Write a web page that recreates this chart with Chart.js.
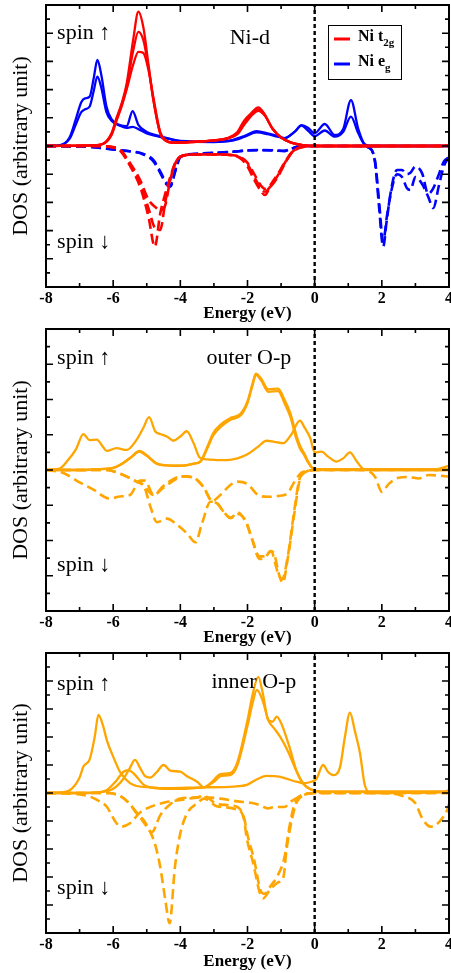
<!DOCTYPE html>
<html>
<head>
<meta charset="utf-8">
<script src="https://cdn.jsdelivr.net/npm/chart.js@4.4.1/dist/chart.umd.min.js"></script>
<style>
  html, body { margin: 0; padding: 0; background: #fff; }
  body { width: 451px; height: 973px; position: relative; overflow: hidden; }
  .panel { position: absolute; left: 0; width: 451px; height: 325px; }
</style>
</head>
<body>
<div class="panel" style="top:0"><canvas id="niD"></canvas></div>
<div class="panel" style="top:324px"><canvas id="outerOp"></canvas></div>
<div class="panel" style="top:648px"><canvas id="innerOp"></canvas></div>
<script>
// energy axis
const energyTicks = [-8, -6, -4, -2, 0, 2, 4];
const energyMinor = [-7, -5, -3, -1, 1, 3];

// ---- Ni-d panel ----
const t2gUpE = [-8, -6.6, -6.3, -6.05, -5.9, -5.75, -5.6, -5.4, -5.25, -5.1, -4.95, -4.8, -4.6, -4.45, -4.2, -3.5, -3.0, -2.6, -2.3, -2.1, -1.9, -1.68, -1.5, -1.25, -1.0, -0.7, -0.4, -0.1, 0.5, 3.8, 4];
const t2gUp1 = [0, 0.02, 0.08, 0.45, 1.0, 1.5, 2.2, 3.8, 4.76, 4.2, 2.9, 1.63, 0.45, 0.2, 0.12, 0.15, 0.2, 0.28, 0.5, 0.9, 1.15, 1.37, 1.15, 0.6, 0.3, 0.12, 0.04, 0, 0, 0, 0.04];
const t2gUp2 = [0, 0.02, 0.08, 0.42, 0.95, 1.45, 2.1, 3.4, 4.05, 3.75, 2.8, 1.6, 0.45, 0.2, 0.12, 0.15, 0.2, 0.27, 0.45, 0.82, 1.1, 1.3, 1.12, 0.6, 0.3, 0.12, 0.04, 0, 0, 0, 0.04];
const t2gUp3 = [0, 0.02, 0.07, 0.38, 0.9, 1.4, 2.0, 2.9, 3.34, 3.3, 2.7, 1.7, 0.5, 0.22, 0.12, 0.15, 0.2, 0.26, 0.42, 0.75, 1.05, 1.25, 1.1, 0.62, 0.3, 0.12, 0.04, 0, 0, 0, 0.04];

const egUpE = [-8, -7.6, -7.3, -7.1, -6.95, -6.84, -6.7, -6.58, -6.47, -6.35, -6.2, -6.05, -5.8, -5.6, -5.42, -5.25, -5.0, -4.7, -4.3, -4.0, -3.0, -2.5, -2.1, -1.73, -1.4, -1.1, -0.9, -0.6, -0.39, -0.2, 0.0, 0.3, 0.6, 0.85, 1.08, 1.3, 1.5, 1.7, 4];
const egUp1 = [0, 0.02, 0.3, 1.0, 1.55, 1.69, 1.75, 2.4, 3.05, 2.5, 1.4, 0.95, 0.74, 0.7, 1.24, 0.75, 0.5, 0.38, 0.25, 0.18, 0.15, 0.2, 0.35, 0.53, 0.45, 0.35, 0.28, 0.5, 0.74, 0.65, 0.45, 0.78, 0.39, 0.6, 1.63, 0.6, 0.05, 0, 0];
const egUp2 = [0, 0.02, 0.25, 0.8, 1.2, 1.3, 1.4, 1.95, 2.46, 2.05, 1.2, 0.9, 0.72, 0.64, 0.68, 0.6, 0.45, 0.35, 0.24, 0.17, 0.14, 0.18, 0.32, 0.48, 0.42, 0.33, 0.28, 0.5, 0.72, 0.55, 0.35, 0.55, 0.33, 0.5, 1.04, 0.45, 0.04, 0, 0];

const t2gDnE = [-8, -6.5, -6.0, -5.8, -5.5, -5.2, -4.95, -4.76, -4.6, -4.45, -4.3, -4.15, -4.0, -3.6, -3.0, -2.5, -2.2, -2.0, -1.8, -1.6, -1.48, -1.3, -1.1, -0.9, -0.7, -0.5, -0.3, 0, 4];
const t2gDn1 = [0, 0, -0.05, -0.15, -0.7, -1.44, -2.5, -3.57, -2.4, -1.7, -1.1, -0.6, -0.38, -0.3, -0.3, -0.32, -0.45, -0.73, -1.2, -1.6, -1.74, -1.35, -1.0, -0.6, -0.25, -0.08, -0.02, 0, 0];
const t2gDn2 = [0, 0, -0.05, -0.14, -0.65, -1.3, -2.2, -2.9, -2.98, -2.0, -1.15, -0.6, -0.38, -0.3, -0.3, -0.32, -0.42, -0.65, -1.1, -1.5, -1.62, -1.4, -1.05, -0.62, -0.25, -0.08, -0.02, 0, 0];
const t2gDn3 = [0, 0, -0.04, -0.12, -0.6, -1.2, -1.9, -2.15, -2.27, -2.1, -1.2, -0.62, -0.38, -0.3, -0.3, -0.32, -0.4, -0.6, -1.0, -1.4, -1.52, -1.42, -1.1, -0.65, -0.27, -0.08, -0.02, 0, 0];

const egDnE = [-8, -7, -6.5, -6.0, -5.6, -5.4, -5.1, -4.8, -4.6, -4.42, -4.3, -4.15, -4.0, -3.6, -3.0, -2.4, -2.0, -1.6, -1.2, -0.9, -0.7, -0.5, 0, 1.4, 1.6, 1.8, 1.92, 2.04, 2.15, 2.3, 2.45, 2.6, 2.75, 2.85, 3.0, 3.2, 3.38, 3.53, 3.7, 3.85, 4];
const egDn1 = [0, -0.02, -0.05, -0.12, -0.18, -0.2, -0.3, -0.55, -0.95, -1.35, -1.44, -0.9, -0.4, -0.3, -0.25, -0.2, -0.16, -0.15, -0.16, -0.18, -0.1, -0.02, 0, 0, -0.05, -0.6, -2.2, -3.57, -2.6, -1.4, -0.85, -0.85, -1.0, -0.95, -0.73, -0.97, -1.7, -1.5, -1.0, -0.55, -0.4];
const egDn2 = [0, -0.02, -0.05, -0.12, -0.17, -0.2, -0.28, -0.5, -0.9, -1.3, -1.4, -0.85, -0.38, -0.28, -0.24, -0.2, -0.15, -0.14, -0.15, -0.17, -0.1, -0.02, 0, 0, -0.05, -0.55, -2.0, -3.4, -2.5, -1.5, -1.0, -1.1, -1.5, -1.56, -1.1, -1.35, -1.8, -2.2, -1.4, -0.7, -0.4];

// ---- outer O-p panel ----
const outerAE = [-8, -7.6, -7.38, -7.1, -6.89, -6.7, -6.49, -6.3, -6.19, -5.9, -5.6, -5.3, -5.1, -4.93, -4.75, -4.6, -4.4, -4.2, -4.0, -3.81, -3.6, -3.42, -3.2, -2.9, -2.62, -2.3, -2.03, -1.7, -1.43, -1.2, -0.94, -0.7, -0.44, -0.3, -0.13, 0.0, 0.2, 0.4, 0.65, 0.85, 1.05, 1.25, 1.45, 1.7, 4];
const outerA = [0, 0.04, 0.24, 0.6, 1.02, 0.85, 0.86, 0.65, 0.54, 0.62, 0.57, 0.86, 1.2, 1.5, 1.1, 1.02, 0.95, 0.83, 0.95, 1.1, 0.75, 0.35, 0.3, 0.28, 0.28, 0.33, 0.43, 0.65, 0.83, 0.8, 0.76, 1.0, 1.4, 1.2, 0.9, 0.5, 0.52, 0.38, 0.24, 0.33, 0.5, 0.25, 0.03, 0, 0];
const outerBE = [-8, -7, -6.5, -6.0, -5.7, -5.45, -5.22, -5.0, -4.71, -4.4, -4.0, -3.6, -3.4, -3.2, -3.02, -2.8, -2.52, -2.2, -2.0, -1.85, -1.75, -1.6, -1.38, -1.09, -0.9, -0.72, -0.55, -0.44, -0.3, -0.2, -0.05, 0.2, 3.6, 4];
const outerB = [0, 0, 0.02, 0.06, 0.2, 0.38, 0.54, 0.42, 0.19, 0.13, 0.12, 0.18, 0.25, 0.65, 1.05, 1.29, 1.47, 1.6, 1.95, 2.45, 2.73, 2.6, 2.29, 2.31, 2.0, 1.6, 1.0, 0.7, 0.45, 0.25, 0.05, 0.02, 0.02, 0.12];
const outerC = [0, 0, 0.02, 0.06, 0.2, 0.37, 0.52, 0.4, 0.18, 0.13, 0.12, 0.18, 0.24, 0.6, 0.98, 1.22, 1.42, 1.55, 1.9, 2.4, 2.7, 2.55, 2.22, 2.24, 1.9, 1.5, 0.9, 0.62, 0.4, 0.22, 0.05, 0.02, 0.02, 0.02];

const outerDn1E = [-8, -7.5, -7.0, -6.6, -6.1, -5.8, -5.5, -5.2, -5.05, -4.8, -4.5, -4.2, -3.9, -3.6, -3.3, -3.05, -2.8, -2.5, -2.3, -2.0, -1.7, -1.4, -1.1, -0.8, -0.6, -0.4, -0.2, 0, 1.5, 1.8, 2.0, 2.2, 2.5, 2.8, 3.1, 3.4, 3.7, 4];
const outerDn1 = [0, -0.08, -0.35, -0.55, -0.81, -0.75, -0.71, -0.3, -0.3, -0.71, -0.5, -0.3, -0.18, -0.22, -0.5, -0.88, -0.7, -0.42, -0.33, -0.4, -0.7, -0.76, -0.74, -0.65, -0.33, -0.08, -0.02, 0, 0, -0.2, -0.62, -0.4, -0.22, -0.2, -0.24, -0.14, -0.16, -0.19];
const outerDn2E = [-8, -6.2, -5.8, -5.3, -5.1, -4.87, -4.7, -4.4, -4.1, -3.8, -3.55, -3.35, -3.1, -2.9, -2.7, -2.5, -2.3, -2.05, -1.85, -1.65, -1.5, -1.3, -1.2, -1.05, -0.95, -0.8, -0.6, -0.45, -0.25, 0, 4];
const outerDn2 = [0, 0, -0.1, -0.33, -0.43, -1.1, -1.48, -1.38, -1.55, -1.8, -2.05, -1.5, -0.9, -0.95, -1.2, -1.37, -1.2, -1.48, -2.0, -2.52, -2.5, -2.3, -2.4, -3.0, -3.2, -2.5, -1.2, -0.3, -0.05, 0, 0];
const outerDn3E = [-8, -6.2, -5.8, -5.3, -5.1, -4.8, -4.5, -4.2, -3.9, -3.6, -3.3, -3.1, -2.9, -2.7, -2.5, -2.3, -2.05, -1.85, -1.65, -1.5, -1.3, -1.1, -0.97, -0.8, -0.6, -0.45, -0.25, 0, 4];
const outerDn3 = [0, 0, -0.1, -0.33, -0.43, -0.71, -0.45, -0.25, -0.18, -0.22, -0.5, -0.85, -0.95, -1.2, -1.35, -1.25, -1.45, -2.0, -2.45, -2.45, -2.3, -2.9, -3.1, -2.45, -1.1, -0.25, -0.05, 0, 0];

// ---- inner O-p panel ----
const innerPE = [-8, -7.6, -7.29, -7.0, -6.89, -6.7, -6.55, -6.44, -6.3, -6.19, -6.0, -5.8, -5.5, -5.3, -4.9, -4.4, -3.4, -2.4, -2.0, -1.7, -1.43, -1.2, -0.94, -0.6, -0.3, -0.1, 0.05, 0.25, 0.4, 0.55, 0.75, 0.9, 1.05, 1.2, 1.35, 1.5, 1.7, 3.8, 4];
const innerP = [0, 0.02, 0.1, 0.55, 0.94, 1.2, 2.0, 2.79, 2.4, 1.89, 1.3, 0.76, 0.35, 0.25, 0.2, 0.17, 0.2, 0.23, 0.3, 0.5, 0.61, 0.6, 0.55, 0.42, 0.35, 0.4, 0.5, 1.0, 0.75, 0.64, 0.9, 2.0, 2.87, 2.2, 1.42, 0.25, 0, 0.02, 0.1];
const innerQE = [-8, -6.8, -6.4, -6.0, -5.7, -5.5, -5.35, -5.2, -5.05, -4.9, -4.7, -4.5, -4.3, -4.0, -3.8, -3.5, -3.3, -3.1, -2.8, -2.5, -2.3, -2.0, -1.85, -1.68, -1.55, -1.38, -1.25, -1.13, -1.0, -0.74, -0.55, -0.35, -0.1, 0.2, 4];
const innerQ = [0, 0, 0.03, 0.15, 0.5, 0.9, 1.18, 0.9, 0.6, 0.55, 0.75, 1.0, 0.8, 0.76, 0.6, 0.4, 0.2, 0.35, 0.67, 0.72, 1.1, 2.6, 3.5, 4.15, 3.6, 2.6, 2.55, 2.73, 2.5, 1.6, 0.82, 0.35, 0.12, 0.05, 0.05];
const innerRE = [-8, -7, -6.5, -6.2, -5.9, -5.7, -5.55, -5.35, -5.1, -4.9, -4.5, -4.0, -3.5, -3.3, -3.0, -2.8, -2.5, -2.3, -2.0, -1.85, -1.72, -1.55, -1.38, -1.2, -1.03, -0.8, -0.55, -0.35, -0.1, 0.2, 4];
const innerR = [0, 0, 0.02, 0.1, 0.45, 0.75, 0.82, 0.65, 0.3, 0.2, 0.15, 0.15, 0.18, 0.2, 0.4, 0.6, 0.65, 1.0, 2.4, 3.2, 3.68, 3.3, 2.6, 2.3, 2.01, 1.5, 0.8, 0.35, 0.12, 0.05, 0.05];

const innerDn1E = [-8, -7, -6.69, -6.4, -6.19, -5.9, -5.75, -5.5, -5.2, -4.9, -4.5, -4.0, -3.3, -2.8, -2.3, -1.9, -1.6, -1.4, -1.2, -0.9, -0.7, -0.4, 0, 2.0, 2.6, 3.0, 3.2, 3.45, 3.6, 3.8, 3.95, 4];
const innerDn1 = [0, -0.05, -0.13, -0.3, -0.49, -1.08, -1.2, -1.08, -0.7, -0.5, -0.35, -0.25, -0.15, -0.2, -0.3, -0.35, -0.45, -0.55, -0.5, -0.5, -0.3, -0.1, 0, 0, -0.1, -0.37, -0.9, -1.2, -1.15, -0.9, -0.6, -0.4];
const innerDn2E = [-8, -6.2, -5.8, -5.5, -5.3, -5.1, -4.9, -4.76, -4.6, -4.45, -4.32, -4.16, -4.0, -3.8, -3.5, -3.3, -2.9, -2.3, -2.1, -2.03, -1.83, -1.63, -1.53, -1.33, -1.1, -0.93, -0.84, -0.7, -0.55, -0.3, 0, 4];
const innerDn2 = [0, 0, -0.1, -0.4, -0.73, -0.96, -1.38, -1.8, -2.63, -3.8, -4.65, -2.63, -1.44, -0.73, -0.37, -0.2, -0.48, -0.6, -0.96, -1.56, -2.51, -3.58, -3.76, -3.45, -3.2, -3.0, -2.04, -1.08, -0.37, -0.07, 0, 0];
const innerDn3E = [-8, -6.2, -5.8, -5.5, -5.3, -5.0, -4.85, -4.6, -4.3, -4.0, -3.5, -3.3, -2.9, -2.3, -2.1, -2.0, -1.8, -1.62, -1.5, -1.3, -1.1, -0.9, -0.75, -0.6, -0.35, 0, 4];
const innerDn3 = [0, 0, -0.1, -0.4, -0.7, -1.2, -1.4, -0.8, -0.4, -0.2, -0.15, -0.1, -0.4, -0.5, -0.9, -1.5, -2.4, -3.45, -3.6, -3.3, -2.95, -2.3, -1.2, -0.4, -0.05, 0, 0];

const RED = '#ff0000', BLUE = '#0000ff', ORANGE = '#ffa500';
const SERIF = "'Liberation Serif', 'Times New Roman', serif";

function pts(xs, ys) {
  return xs.map((x, i) => ({ x: x, y: ys[i] }));
}

function curve(xs, ys, color, dashed) {
  return {
    data: pts(xs, ys),
    borderColor: color,
    borderWidth: dashed ? 2.6 : 2.3,
    borderDash: dashed ? [10, 5] : [],
    pointRadius: 0,
    fill: false,
    cubicInterpolationMode: 'monotone'
  };
}

// black dotted line at the Fermi level
function fermiLine(lim) {
  return {
    data: [{ x: 0, y: -lim }, { x: 0, y: lim }],
    borderColor: '#000',
    borderWidth: 2.4,
    borderDash: [4, 3],
    pointRadius: 0
  };
}

// box, inward ticks, labels and legend
const framePlugin = {
  id: 'frame',
  afterDatasetsDraw(chart, args, opts) {
    const { ctx, chartArea: a, scales: { x, y } } = chart;
    ctx.save();
    ctx.strokeStyle = '#000';
    ctx.lineWidth = 1.6;
    ctx.beginPath();
    energyTicks.forEach(v => {
      const px = x.getPixelForValue(v);
      ctx.moveTo(px, a.bottom); ctx.lineTo(px, a.bottom - 7);
      ctx.moveTo(px, a.top); ctx.lineTo(px, a.top + 7);
    });
    energyMinor.forEach(v => {
      const px = x.getPixelForValue(v);
      ctx.moveTo(px, a.bottom); ctx.lineTo(px, a.bottom - 4);
      ctx.moveTo(px, a.top); ctx.lineTo(px, a.top + 4);
    });
    for (let v = -opts.lim; v <= opts.lim; v += 0.5) {
      const py = y.getPixelForValue(v);
      const len = Number.isInteger(v) ? 7 : 4;
      ctx.moveTo(a.left, py); ctx.lineTo(a.left + len, py);
      ctx.moveTo(a.right, py); ctx.lineTo(a.right - len, py);
    }
    ctx.stroke();
    ctx.lineWidth = 2;
    ctx.strokeRect(a.left, a.top, a.right - a.left, a.bottom - a.top);

    ctx.fillStyle = '#000';
    ctx.font = '22px ' + SERIF;
    ctx.textBaseline = 'middle';
    opts.notes.forEach(n => {
      ctx.textAlign = n.align;
      ctx.fillText(n.text, x.getPixelForValue(n.x), y.getPixelForValue(n.y));
    });

    if (opts.legend) {
      const lx = a.left + 282, ly = a.top + 20;
      ctx.lineWidth = 1;
      ctx.strokeRect(lx + 0.5, ly + 0.5, 73, 54);
      ctx.textAlign = 'left';
      ctx.textBaseline = 'alphabetic';
      opts.legend.forEach((item, i) => {
        const rowY = ly + 14 + i * 25;
        ctx.strokeStyle = item.color;
        ctx.lineWidth = 3;
        ctx.beginPath();
        ctx.moveTo(lx + 6, rowY); ctx.lineTo(lx + 22, rowY);
        ctx.stroke();
        ctx.font = 'bold 16px ' + SERIF;
        ctx.fillText(item.text, lx + 30, rowY + 2);
        const w = ctx.measureText(item.text).width;
        ctx.font = 'bold 11px ' + SERIF;
        ctx.fillText(item.sub, lx + 30 + w, rowY + 7);
      });
    }
    ctx.restore();
  }
};

function makePanel(id, curves, lim, axisHeight, notes, legend) {
  return new Chart(document.getElementById(id), {
    type: 'line',
    data: { datasets: [fermiLine(lim)].concat(curves) },
    options: {
      responsive: true,
      maintainAspectRatio: false,
      animation: false,
      layout: { padding: { top: 5, right: 2, bottom: 0, left: 0 } },
      plugins: {
        legend: { display: false },
        tooltip: { enabled: false },
        frame: { lim: lim, notes: notes, legend: legend }
      },
      scales: {
        x: {
          type: 'linear',
          min: -8,
          max: 4,
          afterBuildTicks: s => { s.ticks = energyTicks.map(v => ({ value: v })); },
          afterFit: s => { s.height = axisHeight; s.paddingLeft = 0; s.paddingRight = 0; },
          grid: { display: false },
          border: { display: false },
          ticks: {
            color: '#000',
            padding: -6,
            maxRotation: 0,
            autoSkip: false,
            font: { family: SERIF, size: 16, weight: 'bold' },
            callback: v => String(v)
          },
          title: {
            display: true,
            text: 'Energy (eV)',
            color: '#000',
            padding: { top: 0, bottom: 1 },
            font: { family: SERIF, size: 17, weight: 'bold' }
          }
        },
        y: {
          type: 'linear',
          min: -lim,
          max: lim,
          afterFit: s => { s.width = 46; },
          grid: { display: false },
          border: { display: false },
          ticks: { display: false },
          title: {
            display: true,
            text: 'DOS (arbitrary unit)',
            color: '#000',
            padding: { top: 8, bottom: 0 },
            font: { family: SERIF, size: 22 }
          }
        }
      }
    },
    plugins: [framePlugin]
  });
}

makePanel('niD', [
  curve(t2gUpE, t2gUp1, RED), curve(t2gUpE, t2gUp2, RED), curve(t2gUpE, t2gUp3, RED),
  curve(t2gDnE, t2gDn1, RED, true), curve(t2gDnE, t2gDn2, RED, true), curve(t2gDnE, t2gDn3, RED, true),
  curve(egUpE, egUp1, BLUE), curve(egUpE, egUp2, BLUE),
  curve(egDnE, egDn1, BLUE, true), curve(egDnE, egDn2, BLUE, true)
], 5, 38, [
  { text: 'spin \u2191', x: -7.67, y: 4.0, align: 'left' },
  { text: 'spin \u2193', x: -7.67, y: -3.4, align: 'left' },
  { text: 'Ni-d', x: -1.93, y: 3.83, align: 'center' }
], [
  { text: 'Ni t', sub: '2g', color: RED },
  { text: 'Ni e', sub: 'g', color: BLUE }
]);

makePanel('outerOp', [
  curve(outerAE, outerA, ORANGE), curve(outerBE, outerB, ORANGE), curve(outerBE, outerC, ORANGE),
  curve(outerDn1E, outerDn1, ORANGE, true), curve(outerDn2E, outerDn2, ORANGE, true), curve(outerDn3E, outerDn3, ORANGE, true)
], 4, 38, [
  { text: 'spin \u2191', x: -7.67, y: 3.17, align: 'left' },
  { text: 'spin \u2193', x: -7.67, y: -2.69, align: 'left' },
  { text: 'outer O-p', x: -1.96, y: 3.17, align: 'center' }
], null);

makePanel('innerOp', [
  curve(innerPE, innerP, ORANGE), curve(innerQE, innerQ, ORANGE), curve(innerRE, innerR, ORANGE),
  curve(innerDn1E, innerDn1, ORANGE, true), curve(innerDn2E, innerDn2, ORANGE, true), curve(innerDn3E, innerDn3, ORANGE, true)
], 5, 40, [
  { text: 'spin \u2191', x: -7.67, y: 3.89, align: 'left' },
  { text: 'spin \u2193', x: -7.67, y: -3.39, align: 'left' },
  { text: 'inner O-p', x: -1.81, y: 3.96, align: 'center' }
], null);
</script>
</body>
</html>
